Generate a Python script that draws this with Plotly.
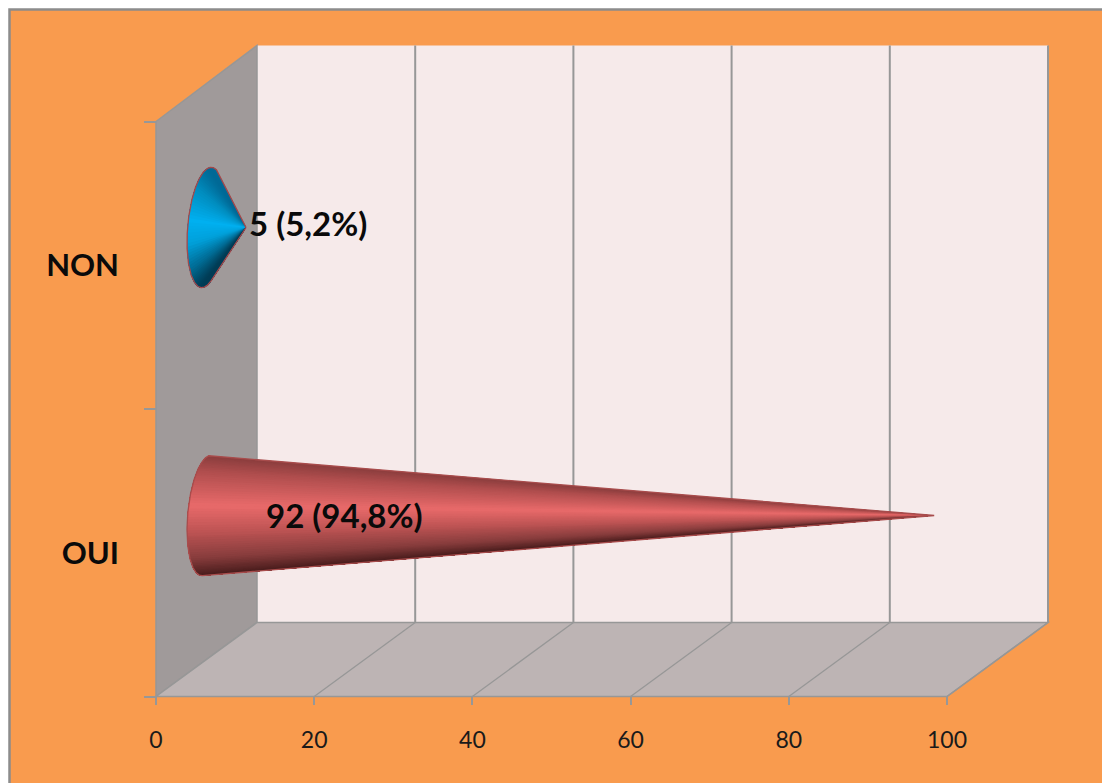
import numpy as np
import plotly.graph_objects as go

# Survey answers shown as cones in a pseudo-3D box
categories = ["OUI", "NON"]
counts = [92, 5]
percents = [94.8, 5.2]
x_ticks = [0, 20, 40, 60, 80, 100]

W, H = 1102, 783
PX_PER_UNIT = 7.91          # horizontal pixels per unit of count
PX_PER_BAND = 287.5         # vertical pixels per category band
ORIGIN_X, OUI_Y = 156, 552.75

DEPTH_X = 101 / PX_PER_UNIT
DEPTH_Y_FLOOR = 74 / PX_PER_BAND
DEPTH_Y_TOP = 76 / PX_PER_BAND
BASE_R_DEPTH = 0.193
BASE_R_BAND = 0.203

C_BG = "#F99B4E"
C_BACK = "#F6EAEA"
C_SIDE = "#A09A9A"
C_FLOOR = "#BDB4B4"
C_LINE = "#979797"
FONT = "Lato"


def project(value, band, depth):
    """Oblique projection of (value, band position, depth 0..1) onto the axes."""
    rise = DEPTH_Y_FLOOR + (band + 0.5) / 2 * (DEPTH_Y_TOP - DEPTH_Y_FLOOR)
    return value + depth * DEPTH_X, band + depth * rise


def path(points):
    return "M " + " L ".join(f"{x:.4f},{y:.4f}" for x, y in points) + " Z"


def shade(stops, s):
    pos = [p for p, _ in stops]
    return "rgb({:.0f},{:.0f},{:.0f})".format(
        *[np.interp(s, pos, [c[i] for _, c in stops]) for i in range(3)]
    )


def cone_traces(value, band, stops, outline):
    """Overlapping fans from the tip to the visible arc of the base ellipse."""
    t = np.linspace(0, 2 * np.pi, 721)[:-1]
    ex, ey = project(0, band + BASE_R_BAND * np.cos(t), 0.5 + BASE_R_DEPTH * np.sin(t))
    tip_x, tip_y = project(value, band, 0.5)
    slope = (ey - tip_y) / (tip_x - ex)
    i_top, i_bot = int(np.argmax(slope)), int(np.argmin(slope))
    # walk from the upper tangent point round the left side to the lower one
    forward = [(i_top + k) % 720 for k in range((i_bot - i_top) % 720 + 1)]
    backward = [(i_top - k) % 720 for k in range((i_top - i_bot) % 720 + 1)]
    idx = forward if ex[forward].mean() < ex[backward].mean() else backward
    ax, ay = ex[idx], ey[idx]
    y_top, y_bot = ay.max(), ay.min()
    traces = []
    # each fan reaches to the end of the arc, so later ones paint over earlier ones
    for a in np.linspace(0, len(idx) - 2, 70).astype(int):
        s = (y_top - ay[a]) / (y_top - y_bot)
        traces.append(go.Scatter(
            x=[tip_x, *ax[a:], tip_x], y=[tip_y, *ay[a:], tip_y],
            mode="lines", fill="toself", fillcolor=shade(stops, s),
            line=dict(width=0), hoverinfo="skip", showlegend=False,
        ))
    traces.append(go.Scatter(
        x=[tip_x, *ax, tip_x], y=[tip_y, *ay, tip_y], mode="lines",
        line=dict(color=outline, width=1.3), hoverinfo="skip", showlegend=False,
    ))
    return traces


RED_STOPS = [(0, (140, 62, 62)), (0.12, (176, 78, 78)), (0.4, (232, 106, 106)),
             (0.62, (190, 84, 84)), (0.85, (135, 60, 60)), (1, (72, 28, 28))]
BLUE_STOPS = [(0, (0, 105, 150)), (0.15, (0, 140, 190)), (0.42, (0, 176, 240)),
              (0.62, (0, 160, 218)), (0.85, (0, 105, 145)), (1, (0, 60, 85))]

BOTTOM, TOP = -0.5, 1.5
MAX_V = x_ticks[-1]

shapes = [
    # page frame
    dict(type="rect", xref="paper", yref="paper", x0=9.5 / W, x1=1.02, y0=-0.02, y1=1 - 9.5 / H,
         fillcolor=C_BG, line=dict(color="#8C8C8C", width=2.5), layer="below"),
    # back wall, side wall and floor
    dict(type="path", path=path([project(0, BOTTOM, 1), project(0, TOP, 1),
                                 project(MAX_V, TOP, 1), project(MAX_V, BOTTOM, 1)]),
         fillcolor=C_BACK, line=dict(width=0), layer="below"),
    dict(type="path", path=path([project(0, BOTTOM, 0), project(0, TOP, 0),
                                 project(0, TOP, 1), project(0, BOTTOM, 1)]),
         fillcolor=C_SIDE, line=dict(color=C_LINE, width=1.5), layer="below"),
    dict(type="path", path=path([project(0, BOTTOM, 0), project(MAX_V, BOTTOM, 0),
                                 project(MAX_V, BOTTOM, 1), project(0, BOTTOM, 1)]),
         fillcolor=C_FLOOR, line=dict(color=C_LINE, width=1.5), layer="below"),
]
for v in x_ticks[1:]:
    x0, y0 = project(v, BOTTOM, 0)
    x1, y1 = project(v, BOTTOM, 1)
    x2, y2 = project(v, TOP, 1)
    shapes.append(dict(type="line", x0=x0, y0=y0, x1=x1, y1=y1, layer="below",
                       line=dict(color=C_LINE, width=1.3)))
    shapes.append(dict(type="line", x0=x1, y0=y1, x1=x2, y1=y2, layer="below",
                       line=dict(color=C_LINE, width=2)))

fig = go.Figure()
fig.add_traces(cone_traces(counts[0], 0, RED_STOPS, "#A84C4C"))
fig.add_traces(cone_traces(counts[1], 1, BLUE_STOPS, "#A5484A"))

labels = [f"{c} ({p:.1f}%)".replace(".", ",") for c, p in zip(counts, percents)]
label_font = dict(family=FONT, size=33, color="#0A0A0A", weight=700)
# the long cone carries its label on the body, the short one just past the tip
lx, ly = project(counts[0], 0, 0.5)
fig.add_annotation(x=(344 - ORIGIN_X) / PX_PER_UNIT, y=ly, text=labels[0], showarrow=False,
                   font=label_font, xanchor="center", yanchor="middle", yshift=1)
lx, ly = project(counts[1], 1, 0.5)
fig.add_annotation(x=lx, y=ly, text=labels[1], showarrow=False, font=label_font,
                   xanchor="left", yanchor="middle", xshift=1, yshift=5)

fig.update_layout(
    width=W, height=H, margin=dict(l=0, r=0, t=0, b=0),
    paper_bgcolor="white", plot_bgcolor="rgba(0,0,0,0)",
    shapes=shapes, showlegend=False,
    xaxis=dict(
        range=[-ORIGIN_X / PX_PER_UNIT, (W - ORIGIN_X) / PX_PER_UNIT],
        domain=[0, 1], anchor="free", position=(H - 696) / H,
        tickmode="array", tickvals=x_ticks, ticktext=[str(v) for v in x_ticks],
        ticks="outside", ticklen=8, tickwidth=2, tickcolor=C_LINE,
        ticklabelstandoff=15, tickfont=dict(family=FONT, size=23, color="#1A1A1A"),
        showgrid=False, zeroline=False, showline=False,
    ),
    yaxis=dict(
        range=[(OUI_Y - H) / PX_PER_BAND, OUI_Y / PX_PER_BAND],
        domain=[0, 1], anchor="free", position=ORIGIN_X / W,
        tickmode="array", tickvals=[0, 1], ticktext=categories,
        ticks="", ticklabelstandoff=37,
        tickfont=dict(family=FONT, size=31, color="#0A0A0A", weight=700),
        minor=dict(tickmode="array", tickvals=[-0.5, 0.5, 1.5], ticks="outside",
                   ticklen=12, tickwidth=2, tickcolor=C_LINE, showgrid=False),
        showgrid=False, zeroline=False, showline=False,
    ),
)

fig.write_html("out.html")
